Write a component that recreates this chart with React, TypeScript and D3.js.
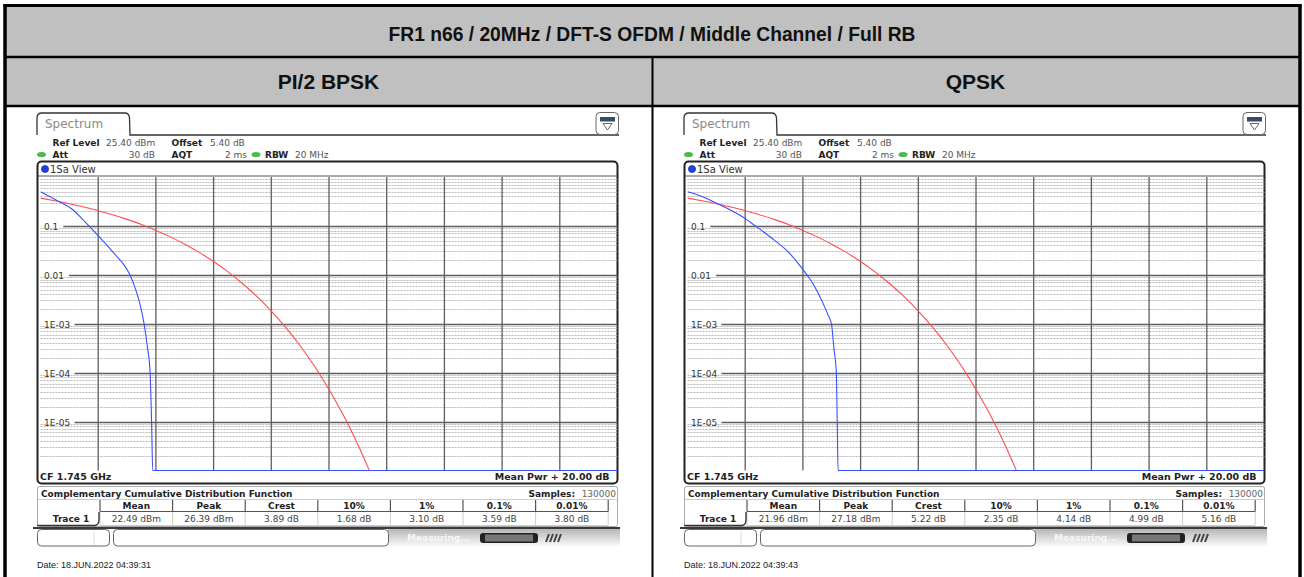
import React from "react";
import * as d3 from "d3";

const TITLE = "FR1 n66 / 20MHz / DFT-S OFDM / Middle Channel / Full RB";
const PANEL_TITLES = ["PI/2 BPSK", "QPSK"];
const DATES = ["Date: 18.JUN.2022  04:39:31", "Date: 18.JUN.2022  04:39:43"];

const STAT_HEADERS = ["Mean", "Peak", "Crest", "10%", "1%", "0.1%", "0.01%"];
const BPSK_STATS = ["22.49 dBm", "26.39 dBm", "3.89 dB", "1.68 dB", "3.10 dB", "3.59 dB", "3.80 dB"];
const QPSK_STATS = ["21.96 dBm", "27.18 dBm", "5.22 dB", "2.35 dB", "4.14 dB", "4.99 dB", "5.16 dB"];

const Y_TICKS = [0.1, 0.01, 1e-3, 1e-4, 1e-5];
const Y_TICK_LABELS = ["0.1", "0.01", "1E-03", "1E-04", "1E-05"];
const X_TICKS = [2, 4, 6, 8, 10, 12, 14, 16, 18];

// measured trace, dB above mean power vs probability
const BPSK_DB = [0, 0.6, 1.12, 1.4, 1.68, 2.0, 2.3, 2.64, 2.9, 3.1, 3.3, 3.45, 3.59, 3.7, 3.8, 3.85, 3.89, 20];
const BPSK_P = [0.5, 0.324, 0.214, 0.148, 0.1, 0.063, 0.0407, 0.024, 0.0158, 0.01, 0.005, 0.0025, 0.001, 0.000355, 0.0001, 0.00001, 0.000001, 0.000001];
const QPSK_DB = [0, 0.5, 0.95, 1.5, 2.0, 2.35, 2.7, 3.03, 3.49, 3.8, 4.14, 4.35, 4.53, 4.75, 4.88, 4.99, 5.08, 5.16, 5.19, 5.22, 20];
const QPSK_P = [0.5, 0.4, 0.302, 0.209, 0.141, 0.1, 0.0708, 0.05, 0.0295, 0.0182, 0.01, 0.0066, 0.0042, 0.00224, 0.00148, 0.001, 0.0003, 0.0001, 0.00001, 0.000001, 0.000001];
// gaussian reference trace
const GAUSS_DB = [0, 0.5, 1, 1.5, 2, 2.5, 3, 3.5, 4, 4.5, 5, 5.5, 6, 6.5, 7, 7.5, 8, 8.5, 9, 9.5, 10, 10.5, 11, 11.4];
const GAUSS_P = [0.37, 0.326, 0.284, 0.243, 0.205, 0.169, 0.136, 0.107, 0.081, 0.0597, 0.0423, 0.0288, 0.0187, 0.0115, 0.00666, 0.00362, 0.00182, 0.00084, 0.000355, 0.000135, 0.0000454, 0.0000134, 0.0000034, 0.000001];

const FONT = "'DejaVu Sans', Verdana, sans-serif";
const ARIAL = "'Liberation Sans', Arial, sans-serif";

const x = d3.scaleLinear().domain([0, 20]).range([40.5, 617.5]);
const y = d3.scaleLog().domain([1, 1e-6]).range([177, 470.5]);

const minorTicks: number[] = [];
for (let k = 0; k < 6; k++) {
  for (let m = 2; m <= 9; m++) minorTicks.push(m * Math.pow(10, -k - 1));
}

const line = d3
  .line<[number, number]>()
  .x((d) => x(d[0]))
  .y((d) => y(d[1]))
  .curve(d3.curveMonotoneX);

const colX = (i: number) => 100 + i * 72.6;

function Panel({ dx, stats, db, p, date, id }: any) {
  const trace = db.map((v: number, i: number) => [v, p[i]]) as [number, number][];
  const gauss = GAUSS_DB.map((v, i) => [v, GAUSS_P[i]]) as [number, number][];
  return (
    <g transform={`translate(${dx},0)`} fontFamily={FONT}>
      {/* tab */}
      <path d="M37,135 V118 Q37,113 42,113 H125 Q129,113 129.5,118 L130,135 H619" fill="none" stroke="#333" strokeWidth={1.3} />
      <text x={45} y={128} fontSize={12} fill="#8a8a8a">Spectrum</text>
      <rect x={596} y={112.5} width={22.5} height={22} rx={4} fill="#fff" stroke="#666" />
      <rect x={600} y={117} width={15} height={4.5} fill="#3a4a6a" />
      <path d="M603,123.5 H612 L607.5,130 Z" fill="none" stroke="#556" strokeWidth={0.9} />

      {/* settings */}
      <g fontSize={9} fill="#222">
        <text x={52.5} y={145.5} fontWeight="bold">Ref Level</text>
        <text x={106} y={145.5} fill="#555">25.40 dBm</text>
        <text x={171.5} y={145.5} fontWeight="bold">Offset</text>
        <text x={210} y={145.5} fill="#555">5.40 dB</text>
        <text x={52.5} y={157.5} fontWeight="bold">Att</text>
        <text x={155} y={157.5} fill="#555" textAnchor="end">30 dB</text>
        <text x={171.5} y={157.5} fontWeight="bold">AQT</text>
        <text x={247} y={157.5} fill="#555" textAnchor="end">2 ms</text>
        <text x={265} y={157.5} fontWeight="bold">RBW</text>
        <text x={295} y={157.5} fill="#555">20 MHz</text>
      </g>
      <ellipse cx={41.5} cy={154.5} rx={4.5} ry={2.6} fill="#4cbb4c" />
      <ellipse cx={256} cy={154.5} rx={4.5} ry={2.6} fill="#4cbb4c" />

      {/* plot frame */}
      <rect x={37.5} y={161.5} width={580} height={322} rx={4} fill="#fff" stroke="#222" strokeWidth={2} />
      <line x1={38} x2={617} y1={176} y2={176} stroke="#555" />
      <circle cx={45} cy={169} r={3.6} fill="#1f3fe6" stroke="#11227a" strokeWidth={0.6} />
      <text x={50} y={172.5} fontSize={10} fill="#333">1Sa View</text>

      <defs>
        <clipPath id={`clip${id}`}>
          <rect x={40.5} y={176.5} width={577} height={295} />
        </clipPath>
      </defs>
      <g>
        {minorTicks.map((t, i) => (
          <line key={i} x1={x(0)} x2={x(20)} y1={Math.round(y(t)) + 0.5} y2={Math.round(y(t)) + 0.5} stroke="#a8a8a8" strokeWidth={0.8} strokeDasharray="2,1" />
        ))}
        {X_TICKS.map((t) => (
          <line key={t} x1={x(t)} x2={x(t)} y1={177} y2={470.5} stroke="#5e5e5e" strokeWidth={1.3} />
        ))}
        {Y_TICKS.map((t, i) => {
          const yy = Math.round(y(t)) + 0.5;
          const lw = Y_TICK_LABELS[i].length * 5.6 + 6;
          return (
            <g key={t}>
              <line x1={x(0) + lw} x2={x(20)} y1={yy} y2={yy} stroke="#5e5e5e" strokeWidth={1.3} />
              <rect x={x(0) + 2} y={yy - 1.5} width={lw - 3} height={3} fill="#fff" />
              <text x={x(0) + 3.5} y={yy + 3.5} fontSize={9} fill="#333">{Y_TICK_LABELS[i]}</text>
            </g>
          );
        })}
      </g>
      <g clipPath={`url(#clip${id})`}>
        <path d={line(gauss) || ""} fill="none" stroke="#ff4d4d" strokeWidth={1.1} />
        <path d={line(trace) || ""} fill="none" stroke="#3650ff" strokeWidth={1.1} />
      </g>
      <text x={40} y={480} fontSize={9.5} fontWeight="bold" fill="#222">CF 1.745 GHz</text>
      <text x={609.5} y={480} fontSize={9.5} fontWeight="bold" fill="#222" textAnchor="end">Mean Pwr + 20.00 dB</text>

      {/* CCDF table */}
      <rect x={37.5} y={486.5} width={580} height={40} rx={2} fill="#fff" stroke="#aaa" />
      <line x1={38} x2={617} y1={499.5} y2={499.5} stroke="#ccc" />
      <text x={41} y={496.5} fontSize={9} fontWeight="bold" fill="#222">Complementary Cumulative Distribution Function</text>
      <text x={575} y={496.5} fontSize={9} fontWeight="bold" fill="#222" textAnchor="end">Samples:</text>
      <text x={616} y={496.5} fontSize={9} fill="#666" textAnchor="end">130000</text>
      {STAT_HEADERS.map((h, i) => (
        <g key={h}>
          <text x={colX(i) + 36.3} y={509} fontSize={9} fontWeight="bold" fill="#222" textAnchor="middle">{h}</text>
          <text x={colX(i) + 36.3} y={522} fontSize={9} fill="#444" textAnchor="middle">{stats[i]}</text>
        </g>
      ))}
      {d3.range(8).map((i) => (
        <g key={i}>
          <line x1={colX(i)} x2={colX(i)} y1={500} y2={511.5} stroke="#555" strokeWidth={1.2} />
          <line x1={colX(i)} x2={colX(i)} y1={512} y2={525} stroke="#ccc" />
        </g>
      ))}
      <line x1={100} x2={colX(7)} y1={511.5} y2={511.5} stroke="#555" strokeWidth={1.2} />
      <line x1={100} x2={colX(7)} y1={525.5} y2={525.5} stroke="#ccc" />
      <path d="M37,525.5 H95 Q99,525 99,520 V512" fill="none" stroke="#333" strokeWidth={1.4} />
      <text x={71} y={522} fontSize={9} fontWeight="bold" fill="#222" textAnchor="middle">Trace 1</text>

      {/* status bar */}
      <rect x={388} y={528.5} width={232} height={19} fill="url(#statusGrad)" />
      <line x1={33} x2={620} y1={528} y2={528} stroke="#3a3a3a" strokeWidth={2} />
      <rect x={37.5} y={529.5} width={72} height={16.5} rx={4} fill="#fff" stroke="#666" />
      <line x1={94} x2={94} y1={531} y2={545} stroke="#ddd" />
      <rect x={113.5} y={529.5} width={275} height={16.5} rx={4} fill="#fff" stroke="#666" />
      <text x={407} y={541} fontSize={9} fontWeight="bold" fill="#fff" opacity={0.8}>Measuring...</text>
      <rect x={480} y={533} width={58} height={10} rx={3} fill="#222" />
      <rect x={485} y={534.5} width={48} height={7} fill="#777" />
      <path d="M546,542 L549,534 M550,542 L553,534 M554,542 L557,534 M558,542 L561,534" stroke="#444" strokeWidth={2} />

      <text x={37} y={568} fontSize={9} fontFamily={ARIAL} fill="#222">{date}</text>
    </g>
  );
}

export default function App() {
  return (
    <svg width={1304} height={577} style={{ position: "absolute", left: 0, top: 0 }}>
      <defs>
        <linearGradient id="statusGrad" x1="0" x2="0" y1="0" y2="1">
          <stop offset="0" stopColor="#b5b5b5" />
          <stop offset="1" stopColor="#ffffff" />
        </linearGradient>
      </defs>
      <rect width={1304} height={577} fill="#fff" />
      <rect x={5} y={5.5} width={1295} height={51} fill="#c0c0c0" />
      <rect x={5} y={57} width={1295} height={49} fill="#c0c0c0" />
      <text x={652} y={41} textAnchor="middle" fontFamily={ARIAL} fontWeight="bold" fontSize={20} textLength={527} lengthAdjust="spacingAndGlyphs" fill="#111">{TITLE}</text>
      {PANEL_TITLES.map((t, i) => (
        <text key={t} x={328.5 + i * 647} y={89} textAnchor="middle" fontFamily={ARIAL} fontWeight="bold" fontSize={21} fill="#111">{t}</text>
      ))}
      <Panel dx={0} id="a" stats={BPSK_STATS} db={BPSK_DB} p={BPSK_P} date={DATES[0]} />
      <Panel dx={647} id="b" stats={QPSK_STATS} db={QPSK_DB} p={QPSK_P} date={DATES[1]} />

      <line x1={5} x2={1300} y1={57} y2={57} stroke="#000" strokeWidth={2.5} />
      <line x1={5} x2={1300} y1={106} y2={106} stroke="#000" strokeWidth={2.5} />
      <line x1={652.5} x2={652.5} y1={57} y2={577} stroke="#000" strokeWidth={2} />
      <line x1={3.5} x2={1301.5} y1={5.5} y2={5.5} stroke="#000" strokeWidth={3} />
      <line x1={5} x2={5} y1={4} y2={577} stroke="#000" strokeWidth={3.5} />
      <line x1={1300} x2={1300} y1={4} y2={577} stroke="#000" strokeWidth={3.5} />
    </svg>
  );
}
